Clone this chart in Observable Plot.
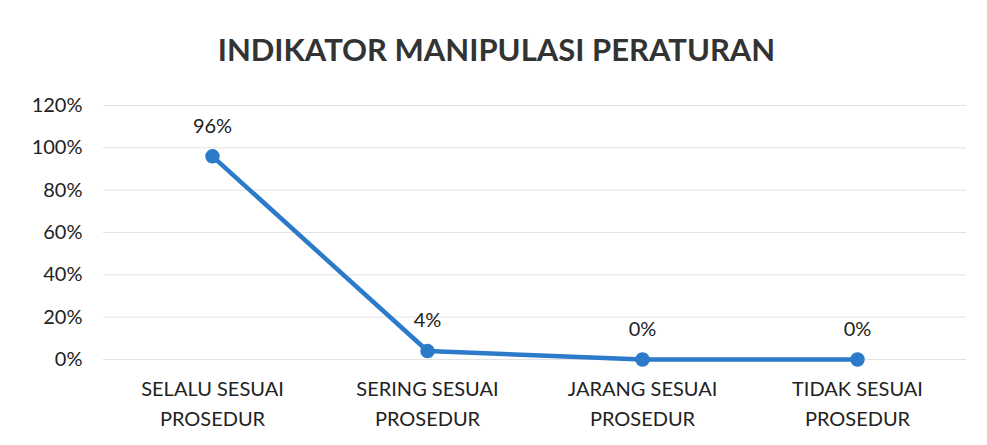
<!DOCTYPE html>
<html>
<head>
<meta charset="utf-8">
<script src="https://cdn.jsdelivr.net/npm/d3@7"></script>
<script src="https://cdn.jsdelivr.net/npm/@observablehq/plot@0.6"></script>
<style>
  html, body { margin: 0; padding: 0; background: #fff; }
  #wrap { width: 987px; height: 445px; position: relative; overflow: hidden; }
  #title { position: absolute; left: 3px; top: 29px; width: 987px; text-align: center;
           font-family: "Lato", sans-serif; font-weight: 700; font-size: 31px; color: #333; line-height: 40px; }
  #chart { position: absolute; left: 0; top: 85px; }
</style>
</head>
<body>
<div id="wrap">
  <div id="title">INDIKATOR MANIPULASI PERATURAN</div>
  <div id="chart"></div>
</div>
<script>
const categories = ["SELALU SESUAI\nPROSEDUR", "SERING SESUAI\nPROSEDUR", "JARANG SESUAI\nPROSEDUR", "TIDAK SESUAI\nPROSEDUR"];
const values = [0.96, 0.04, 0, 0];
const labels = ["96%", "4%", "0%", "0%"];
const yTicks = [0, 0.2, 0.4, 0.6, 0.8, 1.0, 1.2];

const data = categories.map((c, i) => ({cat: c, v: values[i], label: labels[i]}));
const blue = "#2b7bca";

const plot = Plot.plot({
  width: 987,
  height: 360,
  marginTop: 20,
  marginBottom: 86,
  marginLeft: 103,
  marginRight: 21,
  style: {fontFamily: "Lato, sans-serif", fontSize: "20px", color: "#222", background: "transparent"},
  x: {type: "point", domain: categories, padding: 0.5, label: null},
  y: {domain: [0, 1.2], label: null},
  marks: [
    Plot.gridY(yTicks, {stroke: "#e2e2e2", strokeOpacity: 1, strokeWidth: 1}),
    Plot.axisY(yTicks, {tickSize: 0, tickPadding: 21, tickFormat: d => Math.round(d * 100) + "%", fontSize: 20, label: null}),
    Plot.axisX({tickSize: 0, tickPadding: 15, lineHeight: 1.5, fontSize: 20, label: null}),
    Plot.line(data, {x: "cat", y: "v", stroke: blue, strokeWidth: 4.5}),
    Plot.dot(data, {x: "cat", y: "v", r: 6.5, fill: blue, stroke: blue}),
    Plot.text(data, {x: "cat", y: "v", text: "label", dy: -30, fontSize: 20, fill: "#222"})
  ]
});
document.getElementById("chart").appendChild(plot);
</script>
</body>
</html>
